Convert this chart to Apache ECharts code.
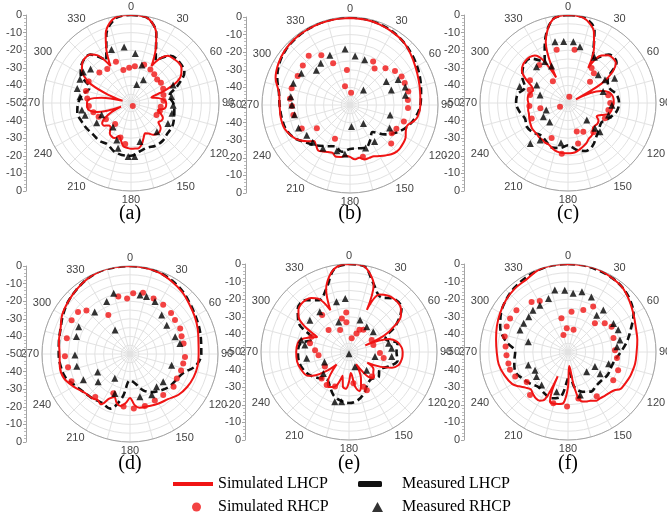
<!DOCTYPE html>
<html><head><meta charset="utf-8">
<script src="https://cdn.jsdelivr.net/npm/echarts@6/dist/echarts.min.js"></script>
<style>html,body{margin:0;padding:0;background:#fff}#c{width:667px;height:516px}</style>
</head><body><div id="c"></div>
<script>
// ---------- DATA: [angle (deg), level (dB)] ----------
const angleLabels = [0,30,60,90,120,150,180,210,240,270,300,330];
const radialTicks = [0,-10,-20,-30,-40,-50];
const seriesNames = ['Simulated LHCP','Measured LHCP','Simulated RHCP','Measured RHCP'];
const panelTags = ['(a)','(b)','(c)','(d)','(e)','(f)'];

// (a)
const a_simL = [[0,0],[5,0],[10,-0.5],[15,-3],[20,-8],[25,-17],[29,-26],[33,-20],[38,-16],[45,-15],[50,-14.5],[55,-15],[60,-17],[65,-21],[70,-30],[75,-38],[80,-34],[85,-31],[90,-30],[95,-30],[100,-31],[105,-34],[110,-32],[115,-30],[120,-30],[125,-31],[130,-28],[135,-27],[140,-27],[145,-28],[150,-30],[155,-31],[160,-29],[165,-26],[170,-24],[175,-24],[180,-24],[185,-24.5],[190,-25],[195,-28],[200,-30],[205,-28],[210,-28],[215,-29],[220,-32],[225,-32],[230,-30],[235,-30],[240,-33],[245,-38],[250,-44],[255,-30],[260,-26],[265,-25],[270,-25],[275,-26],[280,-33],[285,-45],[290,-36],[295,-25],[300,-19],[305,-16],[310,-14],[315,-13.5],[320,-14],[325,-17],[331,-26],[335,-17],[340,-8],[345,-3],[350,-0.5],[355,0],[360,0]];
const a_measL = [[0,0],[10,-0.5],[20,-8],[30,-22],[40,-15],[50,-14],[60,-15],[70,-22],[80,-28],[90,-26],[100,-25],[110,-24],[120,-23],[130,-23],[140,-22],[150,-22],[160,-23],[170,-22],[180,-20],[190,-20],[200,-21],[210,-23],[220,-22],[230,-22],[240,-21],[250,-20],[260,-19],[270,-20],[280,-22],[290,-25],[300,-17],[310,-14],[320,-14],[330,-22],[340,-9],[350,-1],[360,0]];
const a_simR = [[340,-25],[325,-26.5],[314,-25],[297,-23],[285,-23.5],[276,-25],[266,-26],[256,-28],[247,-30],[237,-33],[217,-35],[197,-29.5],[188,-26.5],[347,-30.7],[357,-30],[6,-29],[19,-27],[30,-28],[39,-29],[48,-30],[56,-29.5],[66,-30],[76,-31],[86,-31.5],[97,-33],[106,-33],[115,-34],[150,-48]];
const a_measR = [[340,-17.6],[353,-18],[5,-21.8],[16,-27.6],[17,-39],[28,-35],[310,-20],[303,-17.6],[295,-18],[285,-18.4],[277,-20.8],[262,-21.8],[255,-23],[240,-27.5],[248,-32],[217,-33],[201,-27.5],[196,-23.3],[183,-19.5],[176,-19.5],[167,-27.5],[138,-28],[119,-26],[104,-26],[93,-26],[81,-26.7],[67,-24]];

// (b)
const b_simL = [[0,-0.5],[10,-0.7],[20,-1.2],[30,-2],[40,-3],[50,-5],[60,-7],[70,-8.5],[80,-9.5],[90,-10],[100,-11],[105,-13],[110,-15.5],[115,-15],[120,-13.5],[130,-12.5],[135,-12.5],[140,-13.5],[145,-15],[150,-16.5],[155,-17.8],[160,-18],[165,-18],[170,-19.5],[175,-19],[180,-20.5],[185,-21],[190,-20],[195,-19.5],[200,-21],[205,-20.5],[210,-19.5],[215,-18.5],[220,-20],[225,-21],[230,-18],[235,-15],[240,-13],[250,-10.5],[260,-10],[270,-10],[280,-9],[290,-5],[300,-3],[310,-1.7],[320,-1],[330,-0.8],[340,-0.6],[350,-0.5],[360,-0.5]];
const b_measL = [[0,-0.3],[10,-0.5],[20,-1],[30,-1.8],[40,-3],[50,-4.5],[60,-6],[70,-7.5],[80,-9],[90,-10],[100,-12],[110,-15],[120,-19],[130,-24],[140,-30],[150,-27],[160,-24],[170,-25],[180,-25],[190,-23],[200,-25],[210,-23],[220,-20],[230,-17],[240,-13],[250,-11],[260,-10.5],[270,-10],[280,-9],[290,-6],[300,-3.5],[310,-2],[320,-1.2],[330,-0.8],[340,-0.5],[350,-0.3],[360,-0.3]];
const b_simR = [[320,-13.5],[330,-17.4],[338,-24.4],[355,-30],[345,-39],[5,-43],[310,-15],[299,-16],[286,-15.5],[276,-15.7],[269,-17],[260,-17.3],[244,-19.5],[235,-27],[204,-29],[166,-19.7],[133,-18],[124,-21.4],[117,-20.4],[107,-18],[93,-17],[85,-17],[77,-16],[68,-16.5],[61,-16.5],[53,-18],[44,-21],[34,-25],[28,-22]];
const b_measR = [[355,-18],[6,-22],[18,-23],[338,-19.5],[325,-21],[316,-22.5],[303,-17],[291,-15.5],[278,-16],[270,-17],[260,-18],[246,-18],[235,-20],[225,-20],[212,-21],[196,-23],[186,-22],[176,-37.7],[160,-24],[146,-25],[144,-37],[120,-24],[104,-26.5],[80,-18],[72,-17],[62,-19],[57,-25.4],[70,-25],[42,-38.6]];

// (c)
const c_simL = [[0,0],[5,-0.1],[10,-0.8],[15,-3],[20,-7],[25,-15],[30,-27],[35,-17],[40,-14.5],[45,-14],[50,-14.5],[55,-19],[60,-28],[65,-45],[70,-30],[75,-26],[80,-24.5],[85,-24],[90,-24],[95,-24.5],[100,-25],[105,-26],[110,-30],[115,-32],[120,-30],[125,-29.5],[130,-30],[135,-30],[140,-28],[145,-27],[150,-26.5],[155,-25],[160,-24],[165,-23],[170,-22],[175,-21.5],[180,-21.4],[185,-21.4],[190,-21.5],[195,-22],[200,-23],[205,-24],[210,-24],[215,-24.5],[220,-24.5],[225,-25],[230,-25],[235,-25],[240,-25.5],[245,-26],[250,-26.5],[255,-27],[260,-27],[265,-27.5],[270,-27.5],[275,-27],[280,-27],[285,-28],[290,-29],[295,-27],[300,-22],[305,-18],[310,-16.5],[315,-16],[320,-16],[325,-17],[330,-22],[335,-34],[340,-13],[345,-6],[350,-1.5],[355,-0.2],[360,0]];
const c_measL = [[0,0],[10,-0.5],[20,-6],[30,-22],[40,-14],[50,-14],[60,-24],[70,-25],[80,-22],[90,-21],[100,-22],[110,-25],[120,-28],[130,-27],[140,-25],[150,-22],[160,-21],[170,-23],[180,-26],[190,-24],[200,-23],[210,-25],[220,-26],[230,-24],[240,-23],[250,-24],[260,-22],[270,-20.5],[280,-21],[290,-24],[300,-20],[310,-17],[320,-17],[330,-23],[340,-12],[350,-1.5],[360,0]];
const c_simR = [[348,-19],[7,-19.5],[323,-23],[325,-35],[301,-24.8],[289,-27],[282,-28],[265.5,-28],[247,-27.6],[259,-34],[205,-28],[187,-21],[166,-26.3],[152,-31.5],[163,-33],[139,-28],[112.5,-27.3],[100,-26.7],[90,-26],[79,-26.7],[34,-26],[41,-27.6],[46,-32.6],[12,-46.4],[245,-45]];
const c_measR = [[348,-14.4],[356,-15],[5,-15],[12,-17.3],[30,-20],[336,-27],[331,-23],[319,-22.7],[289,-21],[300,-29.5],[286,-33.5],[252,-37],[241,-34],[224,-35],[217,-23.7],[223,-18.6],[190,-27],[132,-35.6],[133,-29],[132,-25.6],[106.5,-26],[93,-25],[72,-29],[58,-25.2],[62,-20],[47,-26.5]];

// (d)
const d_simL = [[0,0],[10,-0.3],[20,-1],[30,-2.5],[40,-4],[50,-6],[60,-7.5],[70,-9],[80,-10.5],[90,-11],[100,-11],[110,-11.5],[120,-12.5],[130,-14],[140,-16.5],[150,-17.5],[160,-18.5],[170,-19],[175,-21],[180,-25],[185,-22],[190,-20],[195,-21],[200,-24],[205,-22],[210,-17],[215,-18],[220,-17],[230,-16],[240,-13],[250,-10],[260,-9.5],[270,-10],[280,-9],[290,-8],[300,-5.5],[310,-4],[320,-2.5],[330,-1],[340,0],[350,0],[360,0]];
const d_measL = [[0,0],[10,-0.2],[20,-0.8],[30,-2],[40,-3.5],[50,-5.5],[60,-7],[70,-8],[80,-9],[90,-9.5],[100,-12],[110,-18],[120,-20],[130,-21],[140,-23],[150,-25],[160,-28],[170,-33],[180,-35],[190,-25],[200,-17],[210,-18],[220,-17],[230,-16],[240,-14],[250,-11],[260,-10],[270,-9.5],[280,-9],[290,-8],[300,-6],[310,-4],[320,-2.5],[330,-1],[340,0],[350,0],[360,0]];
const d_simR = [[3,-15.5],[12,-14.4],[23,-15.7],[34,-16.3],[45,-17],[53,-18],[63,-18],[71,-19],[79,-19],[93,-18.7],[100,-19.3],[108,-19.5],[117.5,-20],[127,-19],[141,-20],[152,-20],[164,-19.3],[176,-19],[187,-20],[203,-25.8],[219,-18.6],[245,-13.3],[258,-14],[268,-13],[284,-13],[300,-11.7],[309,-12],[315,-15],[331,-24.6],[348.5,-16.7],[357,-18.4]];
const d_measR = [[345,-14.2],[336,-17.4],[320,-18.8],[298,-17],[288,-18],[269,-18.7],[257,-19],[241,-19.7],[241,-29],[229,-26],[328,-34],[212,-33.7],[201,-26],[9.6,-16],[16,-16],[25.5,-17],[39,-21.4],[52,-23.5],[69,-22.5],[78,-21],[105,-25.5],[130,-25.4],[141,-26],[152,-23.7],[167,-25]];

// (e)
const e_simL = [[0,0],[5,0],[10,-0.5],[15,-4],[20,-9],[23,-24],[28,-13],[35,-11],[40,-10.5],[45,-10.5],[50,-11.5],[55,-14],[60,-20],[65,-28],[68,-40],[72,-26],[78,-22],[85,-20],[90,-19.5],[95,-19.5],[100,-20],[105,-21],[110,-24],[115,-30],[120,-38],[125,-33],[130,-32],[135,-30],[140,-31],[145,-36],[150,-42],[155,-34],[160,-30],[165,-27],[170,-30],[175,-38],[180,-33],[185,-29],[190,-30],[195,-36],[200,-30],[205,-28],[210,-27],[215,-29],[220,-34],[225,-40],[230,-33],[235,-27],[240,-23],[250,-21],[260,-20],[270,-20],[280,-20.5],[285,-22],[290,-26],[295,-30],[300,-21],[305,-15],[310,-12.5],[315,-11.5],[320,-11.5],[325,-12.5],[330,-15],[336,-24],[340,-12],[345,-6],[350,-2],[355,-0.3],[360,0]];
const e_measL = [[0,0],[10,-0.5],[20,-9],[30,-14],[40,-10.5],[50,-11],[60,-19],[70,-28],[80,-22],[90,-23],[100,-22],[110,-26],[120,-30],[130,-28],[140,-30],[150,-29],[160,-25],[170,-22],[180,-21],[190,-22],[200,-24],[210,-28],[220,-30],[230,-27],[240,-24],[250,-22],[260,-21],[270,-21],[280,-22],[290,-28],[300,-17],[310,-12],[320,-11.5],[330,-16],[340,-12],[350,-2],[360,0]];
const e_simR = [[356,-27.5],[348,-30.5],[355,-33],[338,-36.5],[324,-24],[317,-33],[292,-27],[282.5,-27.3],[273,-30.7],[264,-32.6],[239,-34],[226,-28.4],[214,-27.3],[202,-28.8],[172,-32],[157.5,-28.6],[155,-26],[137,-31],[100,-30],[92,-32.4],[74,-35.6],[62,-35.4],[33,-35],[25,-36],[22,-38.6],[11,-42]];
const e_measR = [[356,-19.5],[346,-20.6],[341,-32],[324,-21.8],[309,-21.4],[284,-22],[279,-24.6],[261.5,-25.7],[248,-35],[230,-31],[196,-20.6],[188.4,-21.4],[180,-49],[158,-41],[136,-35.6],[100,-35],[77.6,-27],[85,-25.7],[96,-25.6],[50,-32],[35,-32.4],[19,-30.7]];

// (f)
const f_simL = [[0,0],[10,0],[20,0],[30,-1],[40,-2],[50,-4.5],[60,-7],[70,-9],[80,-10],[90,-11],[100,-11.3],[110,-12],[115,-12.5],[120,-13],[125,-13.5],[130,-16],[135,-17],[140,-17.5],[145,-18],[150,-18],[155,-19.5],[160,-20],[165,-21],[170,-30],[175,-42],[180,-30],[185,-21],[190,-20],[195,-19.5],[200,-20],[203,-35],[206,-20],[210,-18],[215,-18],[220,-19],[225,-20],[230,-18.5],[235,-16],[240,-13.5],[250,-11.5],[260,-10],[270,-9.5],[280,-8.5],[290,-7],[300,-5.5],[310,-4],[320,-3],[330,-2.5],[340,-0.5],[350,0],[360,0]];
const f_measL = [[0,0],[10,0],[20,-0.5],[30,-1],[40,-2],[50,-4],[60,-7],[70,-12],[80,-16],[90,-20],[100,-23],[110,-24],[120,-24],[130,-25],[140,-25],[150,-24],[160,-26],[170,-30],[175,-38],[180,-35],[190,-24],[200,-22],[210,-23],[220,-24],[230,-22],[240,-20],[250,-18],[260,-19],[270,-20],[280,-14],[290,-9],[300,-6],[310,-4],[320,-2.5],[330,-1.5],[340,-0.5],[350,0],[360,0]];
const f_simR = [[331,-16.9],[324,-14.8],[309,-12.3],[300,-12],[292.5,-12.3],[283.7,-13],[275,-14.4],[267,-15],[259,-15.5],[253,-15.5],[245,-16.9],[234,-21],[221.5,-17.4],[196,-19.7],[181,-19],[167.4,-23],[147,-20],[122,-19.7],[110,-19.7],[97,-22],[88,-23.3],[73,-23],[60,-21.4],[52,-23.5],[43,-27.6],[20,-24.6],[29,-20.5],[5,-27],[349,-30.5],[357,-36.5],[14,-37],[345,-40]];
const f_measR = [[348,-14],[357,-14.8],[5,-16.5],[13,-14.8],[23,-16],[340,-17.6],[329,-19],[320,-19],[312,-20],[303,-20],[294.6,-20],[284.6,-26.7],[252,-26.3],[241,-28.6],[232,-27.3],[218.6,-26],[196,-26.5],[164,-24.6],[136.5,-34.6],[118.5,-32.6],[124,-28],[106,-26],[84,-22],[77,-19.7],[66,-18.8],[58,-19.5],[40,-18.8],[38,-23.5]];

// ---------- LAYOUT ----------
const R = 88;
const panels = [
  {center:[131,103], axisX:26, tagPos:[130,214], d:[a_simL,a_measL,a_simR,a_measR]},
  {center:[350,105], axisX:246, tagPos:[350,214], d:[b_simL,b_measL,b_simR,b_measR]},
  {center:[568,103], axisX:464, tagPos:[568,214], d:[c_simL,c_measL,c_simR,c_measR]},
  {center:[130,354], axisX:26, tagPos:[130,464], d:[d_simL,d_measL,d_simR,d_measR]},
  {center:[349,352], axisX:245, tagPos:[349,464], d:[e_simL,e_measL,e_simR,e_measR]},
  {center:[568,352], axisX:464, tagPos:[568,464], d:[f_simL,f_measL,f_simR,f_measR]}
];

const RED = '#f01414', BLK = '#111';
const labelFont = 'Liberation Sans, Arial, sans-serif';
const serif = 'Liberation Serif, Times New Roman, serif';
const toPolar = arr => arr.map(p => [p[1], p[0]]);

const option = {
  animation:false,
  backgroundColor:'#fff',
  polar: [], angleAxis: [], radiusAxis: [], grid: [], xAxis: [], yAxis: [], series: [],
  graphic: [],
  legend: [
    {data:[{name:seriesNames[0], icon:'rect'}], left:173, top:475, itemWidth:40, itemHeight:4, padding:0, selectedMode:false,
     textStyle:{fontFamily:serif, fontSize:16, color:'#000', lineHeight:18}},
    {data:[{name:seriesNames[1], icon:'roundRect'}], left:358, top:475, itemWidth:24, itemHeight:6, padding:0, selectedMode:false,
     textStyle:{fontFamily:serif, fontSize:16, color:'#000', lineHeight:18, padding:[0,0,0,15]}},
    {data:[{name:seriesNames[2], icon:'circle'}], left:192, top:498, itemWidth:9, itemHeight:9, padding:0, selectedMode:false,
     textStyle:{fontFamily:serif, fontSize:16, color:'#000', lineHeight:18, padding:[0,0,0,12]}},
    {data:[{name:seriesNames[3], icon:'triangle'}], left:372, top:498, itemWidth:11, itemHeight:10, padding:0, selectedMode:false,
     textStyle:{fontFamily:serif, fontSize:16, color:'#000', lineHeight:18, padding:[0,0,0,14]}}
  ]
};

panels.forEach((p, i) => {
  option.polar.push({center:p.center, radius:R});
  option.angleAxis.push({
    polarIndex:i, type:'value', min:0, max:360, interval:15, startAngle:90, clockwise:true,
    axisLine:{show:true, lineStyle:{color:'#a5a5a5', width:1}},
    axisTick:{show:false},
    axisLabel:{show:true, margin:3, fontSize:11, color:'#444', fontFamily:labelFont,
      formatter: v => (angleLabels.indexOf(v) >= 0) ? String(v) : ''},
    splitLine:{show:true, lineStyle:{color:'#e2e2e2', width:1}}
  });
  option.radiusAxis.push({
    polarIndex:i, type:'value', min:-50, max:0, interval:5,
    axisLine:{show:false}, axisTick:{show:false}, axisLabel:{show:false},
    splitLine:{show:true, lineStyle:{color:'#e2e2e2', width:1}}
  });
  // left radial scale: upper half and lower half
  const cy = p.center[1];
  [0,1].forEach(k => {
    const gi = i*2 + k;
    option.grid.push({left:p.axisX, top: k===0 ? cy-R : cy, width:10, height:R});
    option.xAxis.push({gridIndex:gi, type:'value', show:false});
    option.yAxis.push({
      gridIndex:gi, type:'value', min:-50, max:0, interval:10, inverse: k===1, position:'left',
      axisLine:{show:true, lineStyle:{color:'#a5a5a5'}},
      axisTick:{show:true, length:3, lineStyle:{color:'#a5a5a5'}},
      minorTick:{show:true, splitNumber:5, length:2, lineStyle:{color:'#bbb'}},
      splitLine:{show:false},
      axisLabel:{fontSize:11, color:'#444', fontFamily:labelFont, margin:4,
        formatter: v => (k===1 && v===-50) ? '' : (radialTicks.indexOf(v)>=0 ? String(v) : '')}
    });
  });
  const [simL, measL, simR, measR] = p.d;
  option.series.push({
    type:'line', name:seriesNames[1], coordinateSystem:'polar', polarIndex:i,
    data:toPolar(measL), showSymbol:false, smooth:0.35, z:3,
    lineStyle:{color:BLK, width:2.6, type:[7,4]}, itemStyle:{color:BLK}
  });
  option.series.push({
    type:'line', name:seriesNames[0], coordinateSystem:'polar', polarIndex:i,
    data:toPolar(simL), showSymbol:false, smooth:0.35, z:4,
    lineStyle:{color:RED, width:2}, itemStyle:{color:RED}
  });
  option.series.push({
    type:'scatter', name:seriesNames[2], coordinateSystem:'polar', polarIndex:i,
    data:toPolar(simR), symbol:'circle', symbolSize:6, z:5, itemStyle:{color:RED}
  });
  option.series.push({
    type:'scatter', name:seriesNames[3], coordinateSystem:'polar', polarIndex:i,
    data:toPolar(measR), symbol:'triangle', symbolSize:7, z:5, itemStyle:{color:'#000'}
  });
  option.graphic.push({
    type:'text', x:p.tagPos[0], y:p.tagPos[1],
    style:{text:panelTags[i], font:'20px ' + serif, fill:'#000', align:'center', verticalAlign:'middle',
      textAlign:'center', textVerticalAlign:'middle'}
  });
});

const chart = echarts.init(document.getElementById('c'), null, {renderer:'canvas'});
chart.setOption(option);
</script></body></html>
